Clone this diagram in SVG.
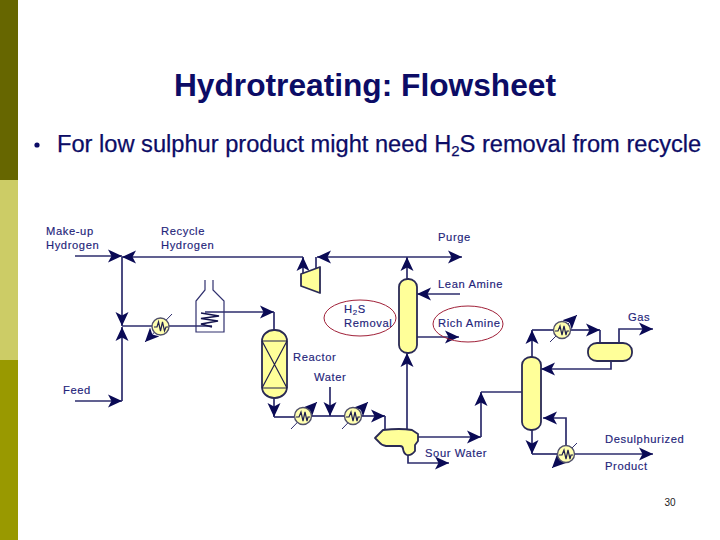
<svg xmlns="http://www.w3.org/2000/svg" width="720" height="540" viewBox="0 0 720 540">
<style>
.title{font:bold 31.7px "Liberation Sans",Arial,sans-serif;fill:#0c0c66}
.body{font:23.65px "Liberation Sans",Arial,sans-serif;fill:#0c0c66;stroke:#0c0c66;stroke-width:.25}
.lb{font:11.2px "Liberation Sans",Arial,sans-serif;fill:#24247a;letter-spacing:.6px;stroke:#24247a;stroke-width:.15}
.eq{fill:#ffff99;stroke:#2a2a55;stroke-width:1.8;stroke-linejoin:round}
.hx{fill:#ffffb0;stroke:#50506a;stroke-width:1.4}
.ln{fill:none;stroke:#2c2c6c;stroke-width:1.7}
.nh{fill:none;stroke:#2c2c6c;stroke-width:1.7;marker-end:url(#ah)}
.dg{fill:none;stroke:#30306e;stroke-width:1;marker-end:url(#ah)}
.th{fill:none;stroke:#20204e;stroke-width:1.2}
.ring{fill:none;stroke:#a02038;stroke-width:1}
</style>
<defs>
<marker id="ah" markerUnits="userSpaceOnUse" markerWidth="16" markerHeight="14" refX="14" refY="7" orient="auto" viewBox="0 0 16 14">
<path d="M0,0.5 L14,7 L0,13.500 L3.500,7 Z" fill="#0a0a55"/>
</marker>
</defs>
<rect width="720" height="540" fill="#ffffff"/>
<g id="sidebar">
<rect x="0" y="0" width="18" height="180" fill="#666600"/>
<rect x="0" y="180" width="18" height="180" fill="#cccc66"/>
<rect x="0" y="360" width="18" height="180" fill="#999900"/>
</g>
<g id="heading">
<text class="title" x="365" y="96" text-anchor="middle">Hydrotreating: Flowsheet</text>
<circle cx="37" cy="145" r="2.6" fill="#0c0c66"/>
<text class="body" x="57" y="152">For low sulphur product might need H<tspan font-size="15" dy="4">2</tspan><tspan dy="-4">S removal from recycle</tspan></text>
</g>
<g id="connectors">
<path class="nh" d="M75,256 H122"/>
<path class="nh" d="M303,257 H122"/>
<path class="nh" d="M122,257 V326"/>
<path class="nh" d="M75,401 H122"/>
<path class="nh" d="M122,401 V327"/>
<path class="ln" d="M122,326 H212"/>
<path class="nh" d="M205,312 H274"/>
<path class="ln" d="M274,312 V331"/>
<path class="nh" d="M274,398 V417"/>
<path class="ln" d="M274,417 H294"/>
<path class="ln" d="M312,416 H344"/>
<path class="nh" d="M330,387 V416"/>
<path class="nh" d="M362,416 H385"/>
<path class="ln" d="M385,416 V430"/>
<path class="nh" d="M407,429 V353"/>
<path class="nh" d="M418,437 H481"/>
<path class="nh" d="M481,437 V392"/>
<path class="ln" d="M481,392 H522"/>
<path class="nh" d="M408,455 V463 H449"/>
<path class="nh" d="M407,279 V257"/>
<path class="nh" d="M407,257 H317"/>
<path class="nh" d="M407,257 H462"/>
<path class="nh" d="M303,274 V257"/>
<path class="ln" d="M316,257 V268"/>
<path class="nh" d="M460,294 H417"/>
<path class="nh" d="M417,337 H459"/>
<path class="nh" d="M532,357 V330"/>
<path class="ln" d="M532,330 H553"/>
<path class="nh" d="M571,330 H600"/>
<path class="ln" d="M600,330 V344"/>
<path class="nh" d="M619,343 V329 H653"/>
<path class="nh" d="M611,361 V369 H541"/>
<path class="nh" d="M532,430 V454"/>
<path class="ln" d="M532,454 H557"/>
<path class="nh" d="M575,454 H653"/>
<path class="nh" d="M566,445 V418 H543"/>
</g>
<g id="reactor">
<rect class="eq" x="262" y="330" width="25" height="68" rx="12" ry="11"/>
<path class="th" d="M262,341 H287 M262,388 H287 M262,341 L287,388 M287,341 L262,388"/>
</g>
<g id="furnace">
<path fill="none" stroke="#30306e" stroke-width="1.2" d="M205,280 V290 L196,301 V332 H224 V301 L213,290 V280"/>
<path fill="none" stroke="#14144e" stroke-width="1.6" d="M212,327 L201,324 L218,321 L201,318.500 L219,316 L201,313"/>
</g>
<g id="compressor"><path class="eq" d="M301,274 L320,267 V293 L301,286 Z"/></g>
<g id="absorber"><rect class="eq" x="399" y="279" width="18" height="74" rx="8.500" ry="8"/></g>
<g id="separator"><path class="eq" d="M383,430 Q400,428 412,430 L418,434 V441 L415,445 V451 Q411,456 407,455 Q404,454 403,449 Q403,446 400,446 H386 Q381,445 379,442 L375,438 Z"/></g>
<g id="stripper"><rect class="eq" x="522" y="357" width="19" height="73" rx="9" ry="8"/></g>
<g id="drum"><rect class="eq" x="588" y="343" width="44" height="18" rx="9" ry="8"/></g>
<g id="hx-feed">
<path class="dg" d="M172,314 L145,342"/>
<circle class="hx" cx="160.500" cy="326.500" r="8.500"/>
<path class="th" d="M154,327 L157,327 L158.500,322 L160.500,331 L162.500,322 L164.500,331 L166,327 H168"/>
</g>
<g id="hx-cooler-1">
<path class="dg" d="M291,429 L317,402"/>
<circle class="hx" cx="303" cy="416" r="8.500"/>
<path class="th" d="M296,417 L299,417 L301,412 L303,421 L305,412 L307,421 L308,417 H310"/>
</g>
<g id="hx-cooler-2">
<path class="dg" d="M342,429 L368,402"/>
<circle class="hx" cx="353" cy="416" r="8.500"/>
<path class="th" d="M346,417 L349,417 L351,412 L353,421 L355,412 L357,421 L358,417 H360"/>
</g>
<g id="hx-condenser">
<path class="dg" d="M550,342 L577,315"/>
<circle class="hx" cx="562" cy="330" r="8.500"/>
<path class="th" d="M555,331 L558,331 L560,326 L562,335 L564,326 L566,335 L567,331 H569"/>
</g>
<g id="hx-reboiler">
<path class="dg" d="M577,443 L552,468"/>
<circle class="hx" cx="566" cy="454" r="8.500"/>
<path class="th" d="M559,455 L562,455 L564,450 L566,459 L568,450 L570,459 L571,455 H573"/>
</g>
<g id="annotation-h2s">
<ellipse class="ring" cx="360" cy="318" rx="36" ry="18"/>
<text class="lb" x="344" y="313">H<tspan font-size="8" dy="2">2</tspan><tspan dy="-2">S</tspan></text>
<text class="lb" x="344" y="327">Removal</text>
</g>
<g id="annotation-rich">
<ellipse class="ring" cx="468" cy="324" rx="35" ry="18"/>
<text class="lb" x="438" y="327">Rich Amine</text>
</g>
<g id="labels">
<text class="lb" x="46" y="235">Make-up</text>
<text class="lb" x="46" y="249">Hydrogen</text>
<text class="lb" x="161" y="235">Recycle</text>
<text class="lb" x="161" y="249">Hydrogen</text>
<text class="lb" x="63" y="394">Feed</text>
<text class="lb" x="438" y="241">Purge</text>
<text class="lb" x="438" y="288">Lean Amine</text>
<text class="lb" x="293" y="361">Reactor</text>
<text class="lb" x="314" y="381">Water</text>
<text class="lb" x="425" y="457">Sour Water</text>
<text class="lb" x="628" y="321">Gas</text>
<text class="lb" x="605" y="443">Desulphurized</text>
<text class="lb" x="605" y="470">Product</text>
</g>
<text x="670" y="506" text-anchor="middle" font-family="'Liberation Sans',Arial,sans-serif" font-size="10" fill="#222222">30</text>
</svg>
